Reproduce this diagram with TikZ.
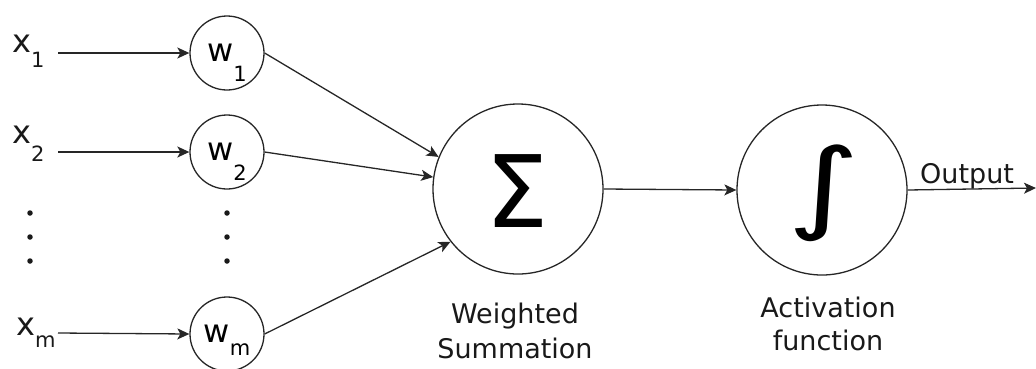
\documentclass[tikz,border=0pt]{standalone}
\usepackage{fontspec}
\setmainfont{DejaVu Sans}
\usetikzlibrary{arrows.meta}
\newcommand{\subvar}[3]{{\fontsize{32}{32}\selectfont #1}\smash{\raisebox{#3}{\fontsize{21}{21}\selectfont #2}}}
\begin{document}
\begin{tikzpicture}[x=1pt,y=-1pt,
  wnode/.style={draw=black!85, circle, line width=1.3pt, minimum size=74pt, inner sep=0pt},
  bignode/.style={draw=black!85, circle, line width=1.3pt, minimum size=170pt, inner sep=0pt},
  arr/.style={draw=black!85, line width=1.3pt, -{Stealth[length=12pt,width=11pt,inset=3pt]}},
  lbl/.style={font=\fontsize{27}{35}\selectfont, align=center, inner sep=0pt, text=black!90},
  xlbl/.style={anchor=base west, inner sep=0pt, text=black!90},
  dotmark/.style={fill=black!90, circle, inner sep=0pt, minimum size=5.5pt}]
\useasboundingbox (0,0) rectangle (1036,368);
% input labels
\node[xlbl] (x1) at (12,52) {\subvar{x}{1}{-15pt}};
\node[xlbl] (x2) at (12,143) {\subvar{x}{2}{-18pt}};
\node[xlbl] (xm) at (16,335) {\subvar{x}{m}{-12pt}};
\coordinate (x1s) at (58,53);
\coordinate (x2s) at (58,152);
\coordinate (xms) at (58,333);
% weight nodes
\node[wnode] (w1) at (227,53) {\subvar{w}{1}{-20pt}};
\node[wnode] (w2) at (227,152) {\subvar{w}{2}{-20pt}};
\node[wnode] (wm) at (227,334) {\subvar{w}{m}{-13pt}};
% dots
\foreach \y [count=\i] in {213,237,261} {
  \node[dotmark] (dl\i) at (30,\y) {};
  \node[dotmark] (dr\i) at (227,\y) {};
}
% summation and activation
\node[bignode] (sig) at (518,189) {};
\node[inner sep=0pt] (sigsym) at (517.5,191.5) {\fontsize{100}{100}\selectfont Σ};
\node[bignode] (act) at (822,190) {};
\node[inner sep=0pt] (actsym) at (823.5,193.5) {\fontsize{100}{100}\selectfont\scalebox{1.4}[1]{∫}};
\node[lbl, anchor=north] (sigl) at (515,302.5) {Weighted\\Summation};
\node[lbl, anchor=north, font=\fontsize{27}{33}\selectfont] (actl) at (828,296.5) {Activation\\function};
\coordinate (out) at (1036,188);
\node[xlbl, font=\fontsize{27}{27}\selectfont] (outl) at (920,183) {Output};
% connectors
\draw[arr] (x1s) -- (w1.west);
\draw[arr] (x2s) -- (w2.west);
\draw[arr] (xms) -- (wm.west);
\draw[arr] (w1.east) -- (sig.158);
\draw[arr] (w2.east) -- (sig.172);
\draw[arr] (wm.east) -- (sig.218);
\draw[arr] (sig.east) -- (act.west);
\draw[arr] (act.east) -- (out);
\end{tikzpicture}
\end{document}
